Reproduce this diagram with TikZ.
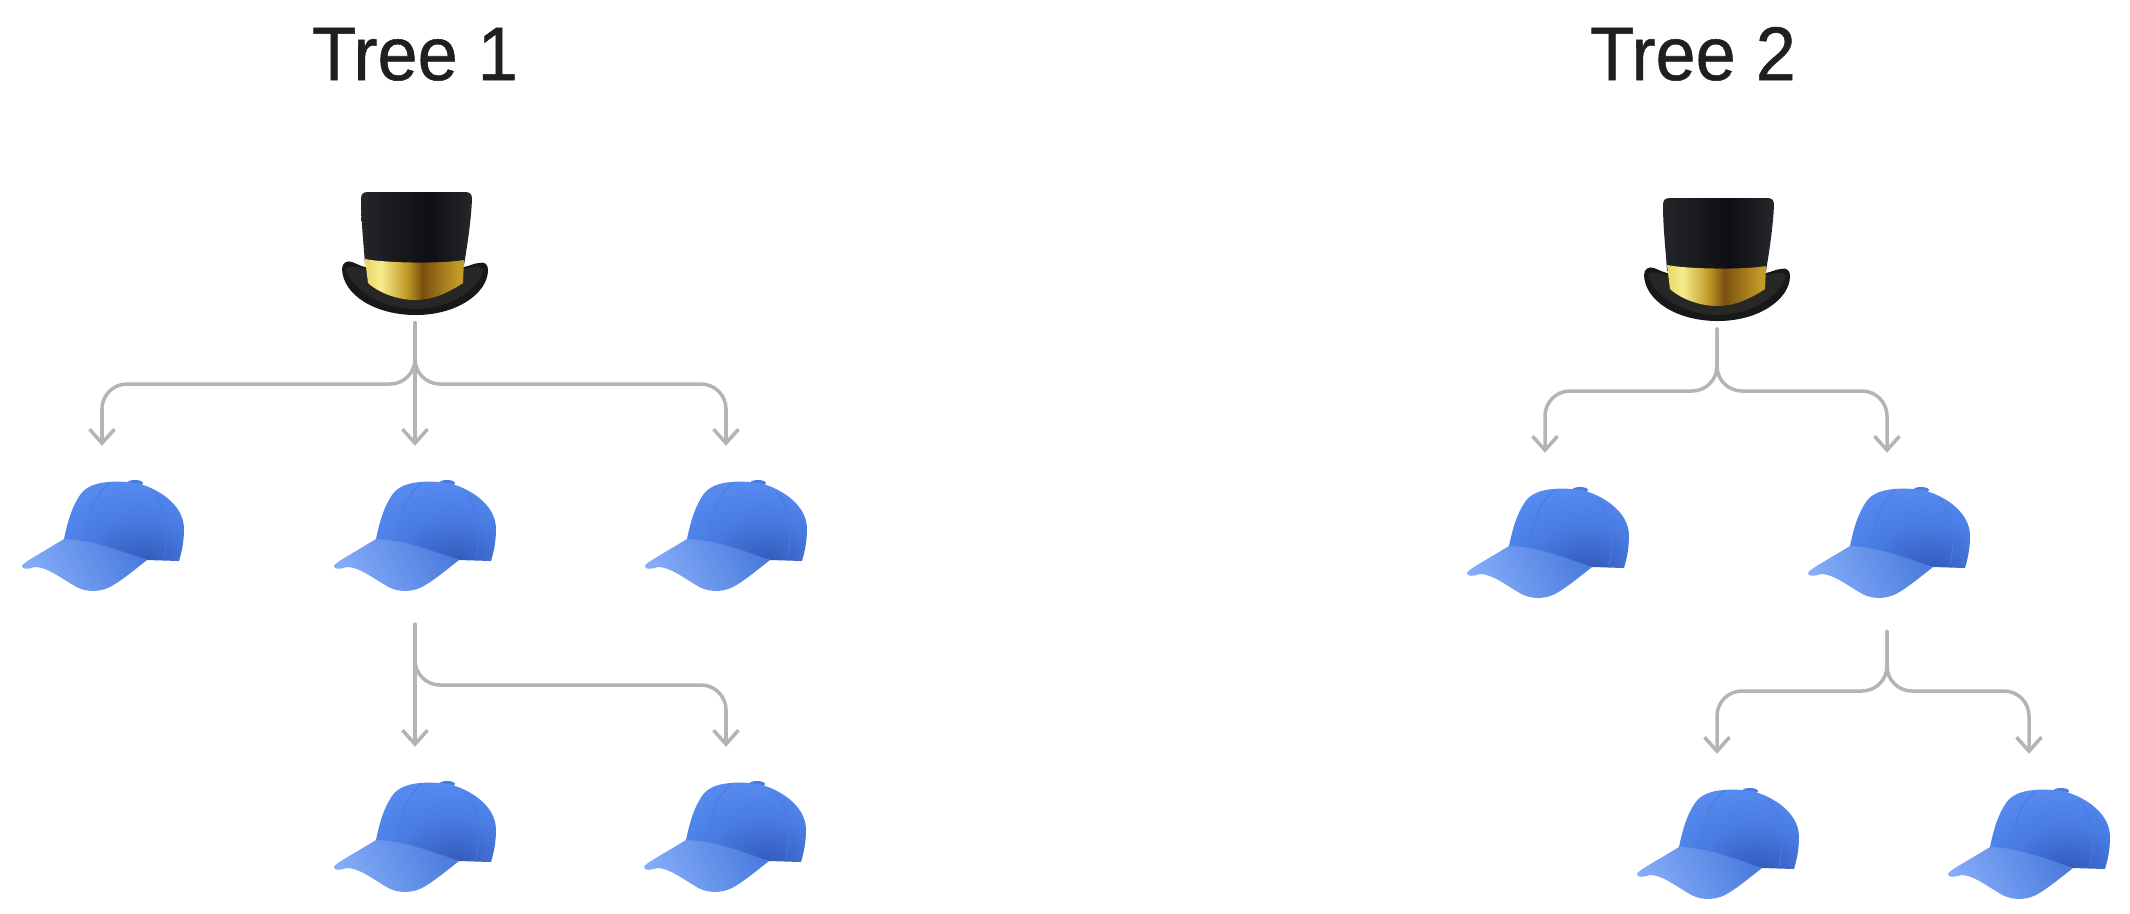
\documentclass[tikz,border=0pt]{standalone}
\usepackage{fontspec}
\setmainfont[FakeStretch=0.95,FakeBold=0.7]{Liberation Sans}
\usepackage{xcolor}
\usetikzlibrary{arrows.meta,calc}

\definecolor{linkgray}{HTML}{B4B4B4}
\definecolor{titleink}{HTML}{1F1F1F}
\definecolor{capdark}{HTML}{3258B8}
\definecolor{capmid}{HTML}{4A7DE4}
\definecolor{caplight}{HTML}{5C90F4}
\definecolor{capseam}{HTML}{4A7ADC}
\definecolor{visorlight}{HTML}{84ACF8}
\definecolor{visordark}{HTML}{4C7DDE}
\definecolor{hatedge}{HTML}{36393C}
\definecolor{hatcore}{HTML}{0E0F13}
\definecolor{brimouter}{HTML}{17181A}
\definecolor{briminner}{HTML}{272725}
\definecolor{golddim}{HTML}{A5851E}
\definecolor{goldmid}{HTML}{D4B436}
\definecolor{goldpale}{HTML}{F6EC8C}
\definecolor{goldbrown}{HTML}{7A500F}
\definecolor{goldwarm}{HTML}{C29A26}

\pgfdeclarehorizontalshading{crownblack}{100bp}{color(0bp)=(hatedge);color(55bp)=(hatcore);color(85bp)=(hatedge!85!hatcore);color(100bp)=(hatedge)}
\pgfdeclarehorizontalshading{bandgold}{100bp}{color(0bp)=(golddim);color(12bp)=(goldmid);color(33bp)=(goldpale);color(46bp)=(goldwarm);color(54bp)=(goldbrown);color(72bp)=(goldwarm);color(88bp)=(goldwarm);color(100bp)=(golddim)}
\pgfdeclareradialshading{capcrown}{\pgfpoint{9bp}{-27bp}}{color(0bp)=(capdark);color(24bp)=(capmid);color(48bp)=(caplight);color(100bp)=(caplight)}

\tikzset{
	hatbox/.style={minimum width=14.6mm,minimum height=13mm,inner sep=0pt},
	capbox/.style={minimum width=16mm,minimum height=17.7mm,inner sep=0pt},
	link/.style={draw=linkgray,line width=1pt,line cap=round,rounded corners=2.5mm,-{Straight Barb[length=1.4mm,width=2.5mm,line width=1pt]}},
	treetitle/.style={anchor=base,text=titleink,font=\fontsize{21.6}{26}\selectfont},
	tophat/.pic={
		\fill[brimouter] (-73,12) .. controls (-73,6) and (-68,3) .. (-63,5) .. controls (-58,7) and (-54,9) .. (-50,10) -- (49,10) .. controls (54,9) and (60,6) .. (64,6) .. controls (70,4) and (73,8) .. (73,13) .. controls (73,36) and (42,58) .. (1,58) .. controls (-40,58) and (-72,38) .. (-73,12);
		\fill[briminner] (-69,12) .. controls (-66,8) and (-58,10) .. (-50,12) -- (49,12) .. controls (58,10) and (66,8) .. (69,13) .. controls (64,32) and (34,52) .. (1,52) .. controls (-34,52) and (-64,32) .. (-69,12);
		\shade[shading=crownblack] (-54,-58) .. controls (-54,-63) and (-52,-65) .. (-47,-65) -- (50,-65) .. controls (55,-65) and (57,-63) .. (57,-58) .. controls (56,-35) and (52,-10) .. (49,8) -- (-50,8) .. controls (-51,-10) and (-54,-35) .. (-54,-58) -- cycle;
		\shade[shading=bandgold] (-50,2) .. controls (-30,6) and (25,7) .. (49,3) -- (48,26) .. controls (30,38) and (15,43) .. (0,43) .. controls (-15,43) and (-35,37) .. (-47,26) -- cycle;
	},
	bluecap/.pic={
		\fill[capmid] (32,-52) ellipse (8 and 3);
		\shade[shading=capcrown] (-39,4) .. controls (-35,-15) and (-31,-28) .. (-23,-40) .. controls (-17,-49) and (-6,-52) .. (5,-53) .. controls (15,-54) and (30,-53) .. (37,-51) .. controls (52,-47) and (81,-32) .. (81,-6) .. controls (81,6) and (79,16) .. (76,26) -- (44,25) -- cycle;
		\draw[capseam,line width=0.25pt] (-18,5) .. controls (-15,-20) and (-8,-42) .. (7,-52);
		\draw[capseam,line width=0.25pt] (61,23) .. controls (66,0) and (66,-25) .. (50,-44);
		\shade[left color=visorlight,right color=visordark,shading angle=115] (-39,4) .. controls (-10,5) and (15,15) .. (44,25) .. controls (30,36) and (18,46) .. (7,52) .. controls (-5,58) and (-20,57) .. (-30,50) .. controls (-42,43) and (-56,32) .. (-68,32) .. controls (-74,34) and (-81,35) .. (-81,31) .. controls (-81,28) and (-60,17) .. (-39,4) -- cycle;
	},
}

\begin{document}
\begin{tikzpicture}[x=0.1mm,y=-0.1mm]

\useasboundingbox (0,0) rectangle (2130,913);
\fill[white] (0,0) rectangle (2130,913);

\node (titleA) at (415,80) [treetitle] {Tree 1};
\node (titleB) at (1693,80) [treetitle] {Tree 2};

\foreach \name/\x/\y in {hatA/415/257,hatB/1717/263}
{
	\node (\name) at (\x,\y) [hatbox] {};
	\pic at (\name) {tophat};
}

\foreach \name/\x/\y/\off in {capA/102/535/1,capB/415/535/0,capC/726/535/0,capD/415/836/0,capE/726/836/-1,capF/1545/542/3,capG/1887/542/2,capH/1717/843/1,capJ/2029/843/0}
{
	\node (\name) at (\x,\y) [capbox] {};
	\pic at (\x+\off,\y) {bluecap};
}

\coordinate (barA) at (0,384);
\coordinate (barB) at (0,685);
\coordinate (barC) at (0,391);
\coordinate (barD) at (0,691);

\draw[link] (hatA.south) -- (capB.north);
\foreach \leaf in {capA,capC}
{
	\draw[link] (hatA.south) -- (hatA.south |- barA) -- (\leaf.north |- barA) -- (\leaf.north);
}

\draw[link] (capB.south) -- (capD.north);
\draw[link] (capB.south) -- (capB.south |- barB) -- (capE.north |- barB) -- (capE.north);

\foreach \leaf in {capF,capG}
{
	\draw[link] (hatB.south) -- (hatB.south |- barC) -- (\leaf.north |- barC) -- (\leaf.north);
}
\foreach \leaf in {capH,capJ}
{
	\draw[link] (capG.south) -- (capG.south |- barD) -- (\leaf.north |- barD) -- (\leaf.north);
}

\end{tikzpicture}
\end{document}
